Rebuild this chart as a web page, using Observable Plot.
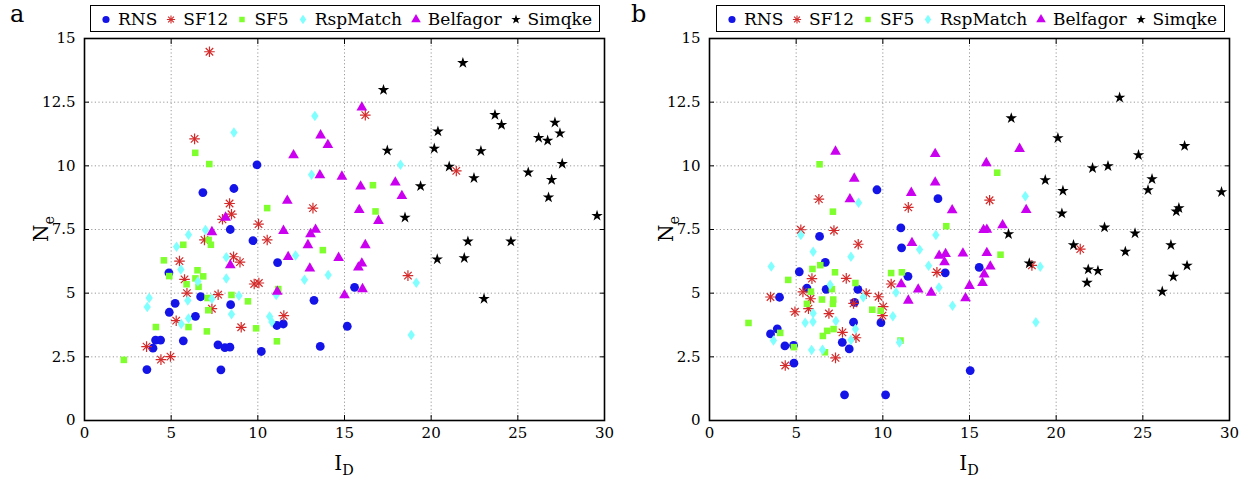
<!DOCTYPE html>
<html><head><meta charset="utf-8">
<script src="https://cdn.jsdelivr.net/npm/d3@7"></script>
<script src="https://cdn.jsdelivr.net/npm/@observablehq/plot@0.6"></script>
<style>
body{margin:0;background:#fff;font-family:"DejaVu Serif",serif;color:#000;}
#wrap{position:relative;width:1251px;height:487px;overflow:hidden;}
.panel{position:absolute;top:0;}
.legend{position:absolute;top:5px;height:25px;border:1.5px solid #000;background:#fff;display:flex;align-items:center;justify-content:space-between;padding:0 7px 0 9px;font-size:17px;box-sizing:content-box;}
.legend .item{display:flex;align-items:center;white-space:nowrap;}
.legend svg{margin-right:6px;}
.letter{position:absolute;top:0px;font-size:24px;}
.xlab{position:absolute;top:451px;font-size:20px;transform:translateX(-50%);white-space:nowrap;}
.ylab{position:absolute;top:229px;font-size:20px;transform:translate(-50%,-50%) rotate(-90deg);white-space:nowrap;}
sub{font-size:0.72em;vertical-align:-0.35em;}
</style>
</head><body>
<div id="wrap"></div>
<script>
// ---- data ----
const seriesNames = ["RNS","SF12","SF5","RspMatch","Belfagor","Simqke"];
const seriesColors = ["#1414e8","#d42a2a","#80ff2e","#80ffff","#cc00f0","#000000"];
const xTicks = [0,5,10,15,20,25,30];
const yTicks = [0,2.5,5,7.5,10,12.5,15];
const panelLetters = ["a","b"];

// Panel a
const rnsA = [[3.6,2.0],[3.95,2.84],[4.1,3.16],[4.39,3.16],[4.87,5.8],[4.89,4.25],[5.23,4.6],[5.7,3.13],[6.4,4.09],[6.7,4.86],[7.7,2.97],[7.87,1.99],[8.1,2.86],[8.39,2.88],[8.43,4.55],[10.2,2.71],[11.14,6.2],[11.1,3.73],[11.47,3.79],[13.24,4.72],[13.6,2.91],[15.16,3.7],[6.83,8.95],[8.62,9.11],[9.95,10.04],[8.41,7.5],[9.72,7.06],[15.58,5.23]];
const sf12A = [[7.21,14.48],[6.35,11.06],[8.37,8.52],[8.48,8.1],[7.96,7.9],[10.04,7.71],[13.18,8.34],[6.92,7.09],[10.54,7.09],[16.2,11.99],[21.45,9.8],[18.66,5.69],[5.48,6.26],[8.6,6.43],[8.97,6.22],[5.77,5.54],[5.91,5.0],[7.71,4.94],[7.35,4.39],[5.29,3.92],[9.04,3.66],[11.5,4.12],[3.58,2.9],[4.41,2.39],[4.96,2.51],[9.79,5.36],[10.06,5.4]];
const sf5A = [[6.39,10.51],[7.2,10.07],[10.54,8.34],[5.7,6.9],[7.16,7.09],[7.29,6.9],[13.75,6.69],[16.64,9.24],[16.79,8.21],[4.58,6.29],[4.89,5.67],[6.52,5.9],[6.85,5.66],[6.4,5.58],[5.89,5.35],[6.58,5.25],[7.1,4.81],[7.14,4.33],[8.48,4.93],[9.43,4.68],[4.12,3.67],[6.0,3.67],[7.06,3.5],[9.9,3.62],[11.18,5.16],[11.1,3.11],[2.27,2.38]];
const rspA = [[8.62,11.31],[13.29,11.96],[13.1,9.65],[6.0,7.29],[6.98,7.48],[5.31,6.82],[18.23,10.04],[19.14,5.41],[18.85,3.36],[8.18,6.41],[5.56,5.93],[6.54,5.46],[8.18,5.58],[5.96,4.71],[7.35,4.78],[8.91,4.9],[3.73,4.81],[3.62,4.46],[5.58,3.79],[6.0,4.01],[8.48,4.17],[10.68,4.08],[10.81,3.87],[12.18,6.48],[12.69,5.53],[14.06,5.71],[11.06,4.93]];
const belA = [[13.62,11.2],[14.04,10.82],[12.06,10.42],[13.58,9.63],[14.85,9.58],[11.7,8.63],[8.14,7.97],[7.35,7.4],[11.48,7.45],[13.33,7.49],[13.04,7.32],[12.89,6.89],[16.0,12.29],[15.93,9.19],[17.93,9.35],[18.31,8.82],[15.85,8.27],[16.96,7.84],[16.2,6.89],[11.75,6.42],[13.0,5.97],[14.66,6.39],[8.41,6.1],[11.12,5.06],[15.0,4.92],[16.0,6.17],[15.8,6.01],[16.04,5.16]];
const simA = [[21.83,14.04],[17.25,12.98],[23.68,12.0],[24.06,11.61],[20.39,11.35],[27.14,11.7],[27.43,11.28],[26.2,11.1],[26.72,10.99],[17.47,10.6],[20.18,10.68],[22.87,10.58],[21.04,9.97],[22.47,9.52],[27.56,10.08],[25.6,9.74],[26.95,9.45],[19.39,9.2],[26.77,8.76],[18.49,7.97],[29.57,8.04],[22.12,7.03],[24.6,7.03],[20.35,6.33],[21.91,6.38],[23.05,4.78]];

// Panel b
const rnsB = [[9.66,9.06],[13.18,8.71],[11.04,7.56],[6.35,7.23],[11.08,6.78],[11.45,5.66],[13.6,5.8],[6.68,6.21],[5.18,5.84],[5.62,5.2],[6.73,5.15],[8.56,5.15],[4.04,4.84],[8.37,4.64],[8.31,3.86],[9.89,3.84],[3.91,3.6],[3.52,3.4],[4.35,2.93],[4.85,2.95],[7.66,3.07],[8.06,2.81],[4.87,2.25],[7.79,1.01],[10.16,1.01],[15.04,1.96],[15.56,6.01]];
const sf12B = [[6.31,8.69],[11.47,8.37],[5.27,7.49],[7.18,7.46],[8.58,6.92],[16.16,8.65],[21.39,6.73],[18.6,6.09],[13.12,5.82],[10.48,5.36],[5.91,5.57],[7.89,5.58],[5.39,5.05],[3.52,4.85],[5.83,4.78],[9.75,4.86],[5.71,4.39],[8.31,4.6],[9.04,4.99],[4.93,4.27],[6.89,4.2],[10.02,4.47],[9.98,4.12],[7.67,3.46],[8.45,3.25],[7.27,2.46],[4.37,2.16]];
const sf5B = [[6.35,10.06],[7.12,8.2],[13.66,7.63],[16.6,9.73],[6.39,6.1],[5.94,5.95],[7.24,5.82],[4.54,5.52],[10.48,5.79],[11.1,5.82],[8.42,5.4],[5.85,5.06],[7.06,5.16],[6.49,4.75],[7.14,4.75],[7.12,4.58],[5.62,4.58],[9.39,4.35],[9.87,4.31],[2.25,3.83],[4.08,3.44],[6.79,3.52],[6.54,3.32],[7.16,3.59],[4.87,2.88],[6.66,2.68],[11.02,3.14],[16.79,6.51]];
const rspB = [[8.6,8.55],[5.27,7.28],[13.06,7.28],[18.22,8.81],[19.08,6.04],[18.83,3.86],[5.98,6.63],[8.16,6.43],[12.12,6.71],[3.56,6.05],[12.64,6.08],[6.96,5.33],[13.24,5.22],[10.76,5.03],[8.87,4.84],[14.02,4.51],[5.98,4.21],[5.52,3.84],[5.97,3.88],[7.29,3.91],[8.42,3.59],[10.58,4.09],[3.69,3.14],[8.16,3.16],[10.96,3.06],[5.89,2.77],[6.52,2.78]];
const belB = [[7.27,10.56],[13.02,10.47],[8.35,9.5],[13.02,9.35],[11.64,8.94],[8.1,8.69],[14.0,8.26],[11.68,6.97],[17.89,10.67],[15.97,10.11],[18.27,8.27],[16.91,7.67],[15.81,7.48],[16.0,7.49],[13.25,6.47],[13.62,6.54],[13.56,6.22],[14.62,6.56],[11.06,5.35],[12.04,5.15],[12.79,5.02],[11.47,4.71],[14.77,4.8],[15.0,5.29],[16.0,6.58],[16.2,6.05],[15.85,5.74],[15.75,5.4]];
const simB = [[23.66,12.68],[17.41,11.87],[20.1,11.09],[27.41,10.78],[24.75,10.42],[22.1,9.91],[22.99,9.99],[25.53,9.48],[19.37,9.44],[25.3,9.05],[20.39,9.02],[29.54,8.97],[27.08,8.34],[26.93,8.21],[20.33,8.13],[22.79,7.58],[24.55,7.35],[17.25,7.32],[21.0,6.89],[26.62,6.89],[23.99,6.63],[18.45,6.17],[27.55,6.08],[21.85,5.93],[22.41,5.88],[26.76,5.65],[21.78,5.41],[26.12,5.06]];

const panelSets = [[rnsA,sf12A,sf5A,rspA,belA,simA],[rnsB,sf12B,sf5B,rspB,belB,simB]];

// ---- drawing ----
const FONT = '"DejaVu Serif",serif';
// MATLAB-like diamond (wider than d3's)
const wideDiamond = {
  draw(ctx, size) {
    const h = Math.sqrt(size / 1.4), w = h * 0.7;
    ctx.moveTo(0, -h); ctx.lineTo(w, 0); ctx.lineTo(0, h); ctx.lineTo(-w, 0); ctx.closePath();
  }
};
const toRows = arr => arr.map(([x,y]) => ({x,y}));
function seriesMarks(i, arr){
  const d = toRows(arr), c = seriesColors[i];
  switch(i){
    case 0: return [Plot.dot(d,{x:"x",y:"y",symbol:"circle",r:4.4,fill:c,stroke:"none"})];
    case 1: return [
      Plot.dot(d,{x:"x",y:"y",symbol:"plus",r:3.5,stroke:c,fill:"none",strokeWidth:1.2}),
      Plot.dot(d,{x:"x",y:"y",symbol:"times",r:3.5,stroke:c,fill:"none",strokeWidth:1.2})];
    case 2: return [Plot.dot(d,{x:"x",y:"y",symbol:"square",r:3.7,fill:c,stroke:"none"})];
    case 3: return [Plot.dot(d,{x:"x",y:"y",symbol:wideDiamond,r:3.5,fill:c,stroke:"none"})];
    case 4: return [Plot.dot(d,{x:"x",y:"y",symbol:"triangle",r:4.0,fill:c,stroke:"none"})];
    case 5: return [Plot.dot(d,{x:"x",y:"y",symbol:"star",r:3.6,fill:c,stroke:"none"})];
  }
}

const wrap = document.getElementById("wrap");
const panelLeft = [0, 625];
const panelWidth = [625, 626];
const panelMR = [21, 22];
const inner = xTicks.slice(1,-1), innerY = yTicks.slice(1,-1);
const blank = () => "";

panelSets.forEach((sets, p) => {
  const marks = [
    Plot.gridX(inner,{stroke:"#999",strokeOpacity:1,strokeWidth:1,strokeDasharray:"1.2,2.4"}),
    Plot.gridY(innerY,{stroke:"#999",strokeOpacity:1,strokeWidth:1,strokeDasharray:"1.2,2.4"}),
    Plot.axisX(xTicks,{anchor:"bottom",tickSize:0,tickPadding:7,tickFormat:d=>String(d),label:null}),
    Plot.axisX(inner,{anchor:"bottom",tickSize:-5,tickFormat:blank,label:null}),
    Plot.axisX(inner,{anchor:"top",tickSize:-5,tickFormat:blank,label:null}),
    Plot.axisY(yTicks,{anchor:"left",tickSize:0,tickPadding:9,tickFormat:d=>String(d),label:null}),
    Plot.axisY(innerY,{anchor:"left",tickSize:-5,tickFormat:blank,label:null}),
    Plot.axisY(innerY,{anchor:"right",tickSize:-5,tickFormat:blank,label:null}),
  ];
  sets.forEach((arr,i) => marks.push(...seriesMarks(i,arr)));
  marks.push(Plot.frame({stroke:"#000",strokeWidth:1.6}));
  const svg = Plot.plot({
    width: panelWidth[p], height: 487,
    marginLeft: 84, marginRight: panelMR[p], marginTop: 38, marginBottom: 67,
    style:{fontFamily:FONT,fontSize:"15px",color:"#000",background:"transparent",overflow:"visible"},
    x:{domain:[0,30]}, y:{domain:[0,15]},
    marks
  });
  svg.classList.add("panel");
  svg.style.left = panelLeft[p] + "px";
  wrap.appendChild(svg);

  const L = panelLeft[p];
  const letter = document.createElement("div");
  letter.className = "letter"; letter.textContent = panelLetters[p];
  letter.style.left = (L + 10 - (p ? 4 : 0)) + "px";
  wrap.appendChild(letter);

  const xl = document.createElement("div");
  xl.className = "xlab"; xl.innerHTML = "I<sub>D</sub>";
  xl.style.left = (L + 84 + 260) + "px";
  wrap.appendChild(xl);

  const yl = document.createElement("div");
  yl.className = "ylab"; yl.innerHTML = "N<sub>e</sub>";
  yl.style.left = (L + 43) + "px";
  wrap.appendChild(yl);

  // legend
  const leg = document.createElement("div");
  leg.className = "legend";
  leg.style.left = (L + (p ? 91 : 90)) + "px";
  leg.style.width = (p ? 491 : 492) + "px";
  const symTypes = [d3.symbolCircle, null, d3.symbolSquare, wideDiamond, d3.symbolTriangle, d3.symbolStar];
  const symSizes = [40, 30, 30, 30, 40, 28];
  seriesNames.forEach((name,i) => {
    const it = document.createElement("div"); it.className = "item";
    const s = d3.create("svg").attr("width",12).attr("height",14);
    const g = s.append("g").attr("transform","translate(6,7.5)");
    if (i === 1) {
      g.append("path").attr("d", d3.symbol(d3.symbolPlus, 24)()).attr("stroke",seriesColors[i]).attr("fill","none").attr("stroke-width",1.1);
      g.append("path").attr("d", d3.symbol(d3.symbolTimes, 24)()).attr("stroke",seriesColors[i]).attr("fill","none").attr("stroke-width",1.1);
    } else {
      g.append("path").attr("d", d3.symbol(symTypes[i], symSizes[i])()).attr("fill",seriesColors[i]);
    }
    it.appendChild(s.node());
    const t = document.createElement("span"); t.textContent = name;
    it.appendChild(t);
    leg.appendChild(it);
  });
  wrap.appendChild(leg);
});
</script>
</body></html>
